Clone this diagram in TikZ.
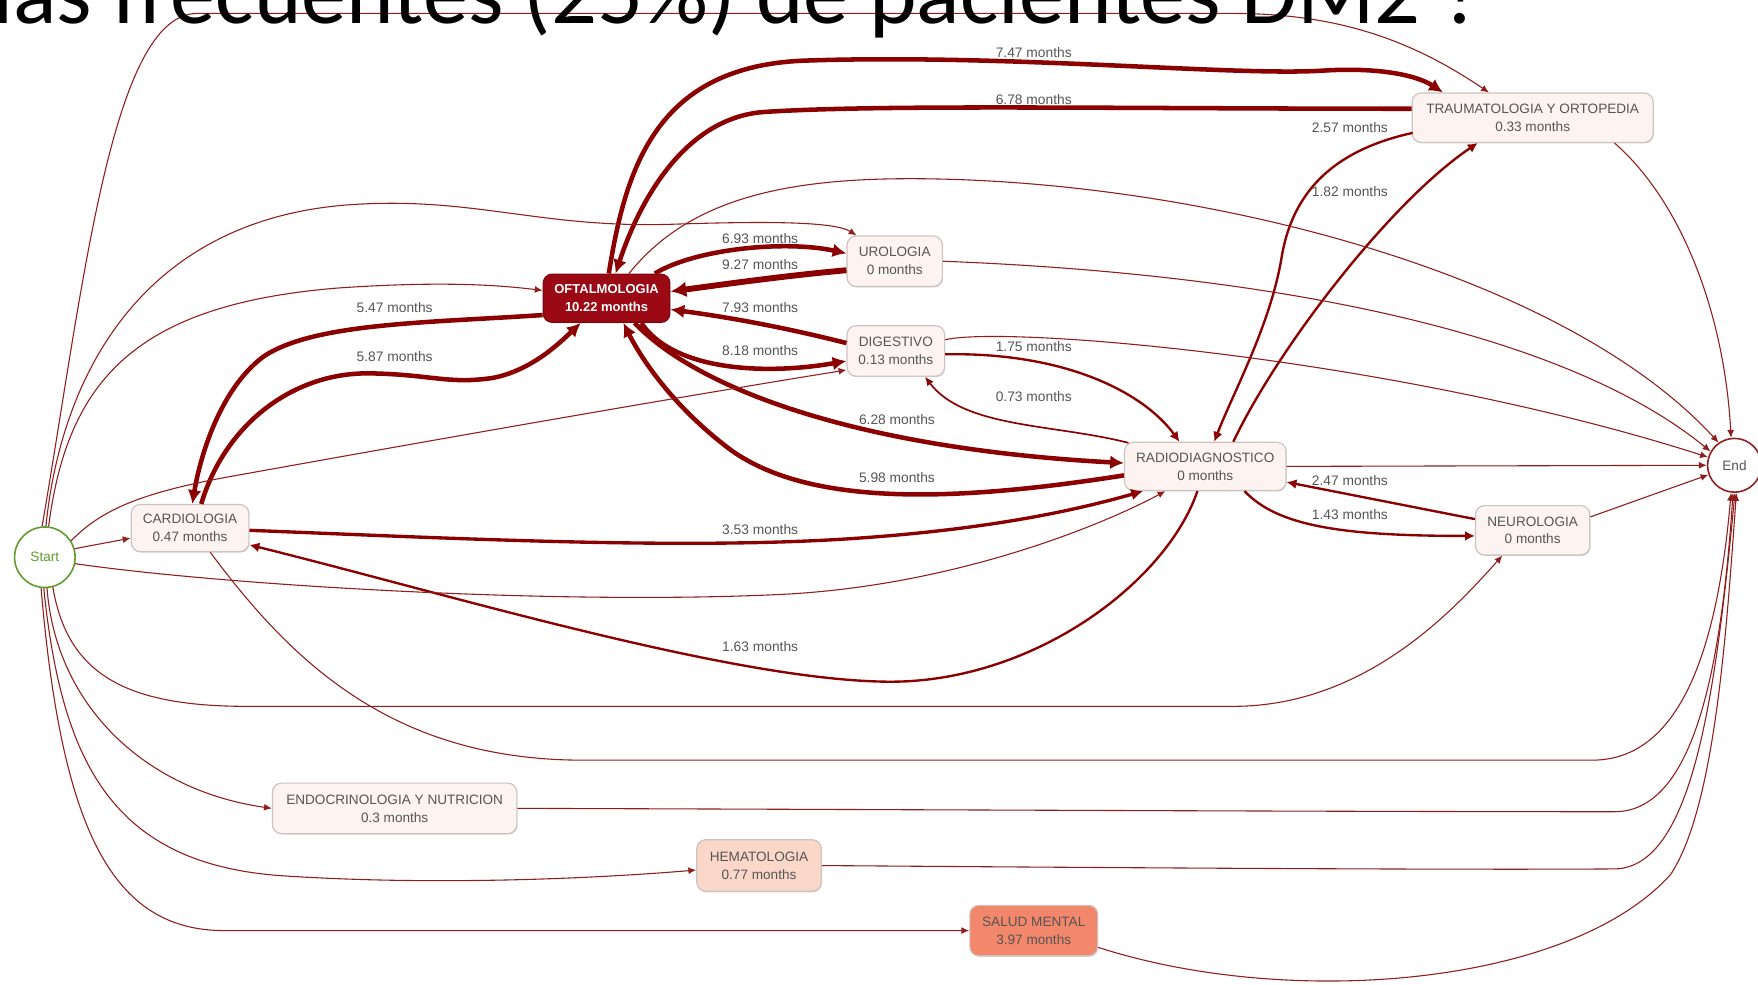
\documentclass[tikz,border=0pt]{standalone}
\usepackage{fontspec}
\setmainfont{Liberation Sans}
\newfontfamily\titlefont{Carlito}
\usetikzlibrary{arrows.meta,calc,shadows}
\definecolor{edgecol}{RGB}{139,0,0}
\definecolor{thincol}{RGB}{145,30,30}
\definecolor{nodefill}{RGB}{253,243,240}
\definecolor{nodeborder}{RGB}{205,195,192}
\definecolor{oftfill}{RGB}{155,10,20}
\definecolor{hemafill}{RGB}{250,215,200}
\definecolor{saludfill}{RGB}{243,135,107}
\definecolor{txt}{RGB}{85,85,85}
\definecolor{startgreen}{RGB}{95,155,45}
\begin{document}
\begin{tikzpicture}[x=0.02cm,y=-0.02cm,
  proc/.style={draw=nodeborder, fill=nodefill, rounded corners=0.16cm, line width=0.6pt,
    align=center, text=txt, font=\fontsize{6.9}{9.1}\selectfont, inner sep=0pt,
    drop shadow={shadow xshift=0.3pt,shadow yshift=-0.5pt,opacity=0.18,fill=black}},
  circ/.style={circle, draw, line width=0.8pt, fill=white, inner sep=0pt, font=\fontsize{6.9}{8}\selectfont},
  lbl/.style={text=txt, font=\fontsize{7}{8}\selectfont, inner sep=0pt},
  ethin/.style={draw=thincol, line width=0.55pt, -{Latex[length=4pt,width=3.5pt]}},
  elight/.style={draw=edgecol, line width=0.85pt, -{Latex[length=4.5pt,width=4pt]}},
  emed/.style={draw=edgecol, line width=1.2pt, -{Latex[length=5pt,width=5pt]}},
  ethree/.style={draw=edgecol, line width=1.7pt, -{Latex[length=6pt,width=6pt]}},
  ethick/.style={draw=edgecol, line width=2.3pt, -{Latex[length=7pt,width=7pt]}},
  eheavy/.style={draw=edgecol, line width=3pt, -{Latex[length=8pt,width=8pt]}}
]
\useasboundingbox (0,0) rectangle (1568,878);
\fill[white] (0,0) rectangle (1568,878);

% nodes
\node[circ, draw=startgreen, text=startgreen, minimum size=1.08cm] (start) at (40,497) {Start};
\node[circ, draw=thincol, text=txt, minimum size=0.96cm] (end) at (1547,415) {End};
\node[proc, minimum width=2.1cm, minimum height=0.84cm] (cardio) at (169.5,471) {CARDIOLOGIA\\0.47 months};
\node[proc, fill=oftfill, draw=oftfill!80!black, text=white, minimum width=2.26cm, minimum height=0.86cm,
  font=\bfseries\fontsize{6.6}{9.1}\selectfont] (oft) at (541,266) {OFTALMOLOGIA\\10.22 months};
\node[proc, minimum width=1.7cm, minimum height=0.9cm] (uro) at (798,233) {UROLOGIA\\0 months};
\node[proc, minimum width=1.74cm, minimum height=0.9cm] (dig) at (799,313) {DIGESTIVO\\0.13 months};
\node[proc, minimum width=2.88cm, minimum height=0.86cm] (radio) at (1075,416) {RADIODIAGNOSTICO\\0 months};
\node[proc, minimum width=4.3cm, minimum height=0.88cm] (trauma) at (1367,105) {TRAUMATOLOGIA Y ORTOPEDIA\\0.33 months};
\node[proc, minimum width=2.04cm, minimum height=0.88cm] (neuro) at (1367,473) {NEUROLOGIA\\0 months};
\node[proc, minimum width=4.36cm, minimum height=0.9cm] (endo) at (352,721) {ENDOCRINOLOGIA Y NUTRICION\\0.3 months};
\node[proc, fill=hemafill, minimum width=2.22cm, minimum height=0.92cm] (hema) at (677,772) {HEMATOLOGIA\\0.77 months};
\node[proc, fill=saludfill, minimum width=2.28cm, minimum height=0.9cm] (salud) at (922,830) {SALUD MENTAL\\3.97 months};

% thick edges
\draw[ethick] ($(oft.north)+(2,0)$) .. controls (558,150) and (585,58) .. (720,54) .. controls (900,48) and (1100,68) .. (1180,63) .. controls (1225,60) and (1262,66) .. ($(trauma.north west)+(28,0)$);
\draw[ethick] ($(trauma.west)+(0,-8)$) .. controls (1000,97) and (780,93) .. (680,100) .. controls (610,106) and (570,180) .. ($(oft.north)+(8,0)$);
\draw[ethick] ($(oft.north east)+(-14,0)$) .. controls (620,222) and (700,214) .. ($(uro.west)+(0,-7)$);
\draw[eheavy] ($(uro.west)+(0,8)$) .. controls (700,246) and (650,253) .. ($(oft.east)+(0,-6)$);
\draw[ethick] ($(dig.west)+(0,-7)$) .. controls (700,292) and (650,283) .. ($(oft.east)+(0,10)$);
\draw[ethick] ($(oft.south)+(31,0)$) .. controls (600,330) and (680,335) .. ($(dig.west)+(0,9)$);
\draw[ethick] ($(oft.south)+(25,0)$) .. controls (620,345) and (760,400) .. ($(radio.west)+(0,-3)$);
\draw[ethick] ($(radio.west)+(0,8)$) .. controls (850,448) and (720,452) .. (650,400) .. controls (600,362) and (572,320) .. ($(oft.south)+(15,0)$);
\draw[ethick] ($(oft.west)+(0,15)$) .. controls (380,288) and (280,288) .. (235,318) .. controls (195,348) and (178,410) .. ($(cardio.north)+(2,0)$);
\draw[ethick] ($(cardio.north)+(10,0)$) .. controls (200,380) and (260,332) .. (330,333) .. controls (385,334) and (400,343) .. (440,337) .. controls (475,330) and (500,305) .. ($(oft.south)+(-23,0)$);
\draw[ethree] ($(cardio.east)+(0,2)$) .. controls (400,480) and (600,490) .. (750,481) .. controls (880,473) and (960,455) .. ($(radio.south west)+(17,0)$);
\draw[emed] ($(radio.south)+(-7,0)$) .. controls (1040,520) and (920,610) .. (790,608) .. controls (650,606) and (400,530) .. ($(cardio.east)+(0,15)$);
\draw[emed] ($(radio.north)+(25,0)$) .. controls (1140,310) and (1240,180) .. ($(trauma.south)+(-49,0)$);
\draw[emed] ($(trauma.south west)+(1,-9)$) .. controls (1185,135) and (1152,175) .. (1143,230) .. controls (1133,290) and (1100,350) .. ($(radio.north)+(8,0)$);
\draw[emed] ($(dig.east)+(0,3)$) .. controls (950,314) and (1020,350) .. ($(radio.north)+(-23,0)$);
\draw[elight] ($(radio.north west)+(4,1)$) .. controls (940,378) and (860,382) .. ($(dig.south)+(26,0)$);
\draw[emed] ($(neuro.west)+(0,-10)$) -- ($(radio.east)+(0,14)$);
\draw[emed] ($(radio.south)+(35,0)$) .. controls (1140,470) and (1200,478) .. ($(neuro.west)+(0,5)$);

% thin edges
\draw[ethin] (start.16) -- ($(cardio.west)+(0,9)$);
\draw[ethin] (start.83) .. controls (60,340) and (120,272) .. (300,257) .. controls (400,250) and (450,255) .. ($(oft.west)+(0,-7)$);
\draw[ethin] (start.88) .. controls (55,330) and (130,198) .. (307,183) .. controls (420,174) and (480,204) .. (600,200) .. controls (690,197) and (745,198) .. ($(uro.north west)+(9,0)$);
\draw[ethin] (start.95) .. controls (75,250) and (100,14) .. (175,12) -- (1100,12) .. controls (1200,12) and (1265,40) .. ($(trauma.north)+(-39,0)$);
\draw[ethin] (start.32) .. controls (90,455) and (125,440) .. (200,426) .. controls (400,390) and (600,355) .. ($(dig.west)+(0,17)$);
\draw[ethin] (start.-12) .. controls (200,522) and (500,540) .. (700,530) .. controls (850,522) and (980,470) .. ($(radio.south west)+(37,0)$);
\draw[ethin] (start.-75) .. controls (60,600) and (110,630) .. (220,630) -- (1100,630) .. controls (1220,630) and (1300,540) .. ($(neuro.south)+(-27,0)$);
\draw[ethin] (start.-86) .. controls (50,630) and (130,705) .. (endo.west);
\draw[ethin] (start.-92) .. controls (55,680) and (100,770) .. (250,781) .. controls (400,791) and (550,782) .. ($(hema.west)+(0,4)$);
\draw[ethin] (start.-97) .. controls (55,740) and (100,830) .. (200,830) -- (salud.west);
\draw[ethin] ($(cardio.south)+(18,0)$) .. controls (260,590) and (350,678) .. (520,678) -- (1420,678) .. controls (1490,678) and (1530,600) .. (end.-97);
\draw[ethin] (endo.east) .. controls (800,722) and (1200,724) .. (1440,724) .. controls (1510,724) and (1535,600) .. (end.-93);
\draw[ethin] (hema.east) .. controls (1000,774) and (1300,776) .. (1440,775) .. controls (1510,774) and (1530,620) .. (end.-89);
\draw[ethin] ($(salud.east)+(0,15)$) .. controls (1150,900) and (1400,880) .. (1490,780) .. controls (1530,720) and (1540,560) .. (end.-86);
\draw[ethin] ($(trauma.south east)+(-35,0)$) .. controls (1500,180) and (1538,280) .. (end.97);
\draw[ethin] ($(oft.north)+(20,0)$) .. controls (620,170) and (720,156) .. (850,160) .. controls (1100,168) and (1400,250) .. (end.125);
\draw[ethin] (uro.east) .. controls (1150,245) and (1400,300) .. (end.150);
\draw[ethin] ($(dig.east)+(0,-10)$) .. controls (900,290) and (1250,320) .. (end.163);
\draw[ethin] (radio.east) -- (end.west);
\draw[ethin] ($(neuro.east)+(0,-12)$) -- (end.-160);

% labels
\node[lbl] (l1) at (922,47) {7.47 months};
\node[lbl] (l2) at (922,89) {6.78 months};
\node[lbl] (l3) at (678,213) {6.93 months};
\node[lbl] (l4) at (678,236) {9.27 months};
\node[lbl] (l5) at (678,274) {7.93 months};
\node[lbl] (l6) at (678,313) {8.18 months};
\node[lbl] (l7) at (352,274) {5.47 months};
\node[lbl] (l8) at (352,318) {5.87 months};
\node[lbl] (l9) at (800,374) {6.28 months};
\node[lbl] (l10) at (800,426) {5.98 months};
\node[lbl] (l11) at (678,472) {3.53 months};
\node[lbl] (l12) at (678,577) {1.63 months};
\node[lbl] (l13) at (1204,114) {2.57 months};
\node[lbl] (l14) at (1204,171) {1.82 months};
\node[lbl] (l15) at (922,309) {1.75 months};
\node[lbl] (l16) at (922,354) {0.73 months};
\node[lbl] (l17) at (1204,429) {2.47 months};
\node[lbl] (l18) at (1204,459) {1.43 months};

% title (cut off by the page edge, as in the reference)
\node[anchor=base west, inner sep=0pt, font=\titlefont\fontsize{46}{46}\selectfont] (title) at (-53,21) {más frecuentes (25\%) de pacientes DM2 ?};
\end{tikzpicture}
\end{document}
